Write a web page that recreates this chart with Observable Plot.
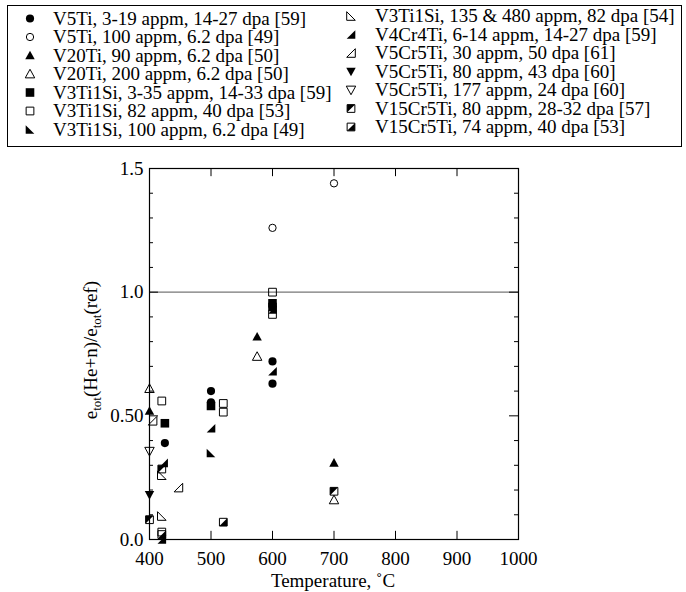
<!DOCTYPE html>
<html><head><meta charset="utf-8">
<script src="https://cdn.jsdelivr.net/npm/d3@7"></script>
<script src="https://cdn.jsdelivr.net/npm/@observablehq/plot@0.6"></script>
<style>body{margin:0;background:#fff;} #c{width:686px;} svg{display:block;}</style>
</head><body><div id="c"></div>
<script>
// ---- data ----
const seriesLabels = [
  "V5Ti, 3-19 appm, 14-27 dpa [59]",
  "V5Ti, 100 appm, 6.2 dpa [49]",
  "V20Ti, 90 appm, 6.2 dpa [50]",
  "V20Ti, 200 appm, 6.2 dpa [50]",
  "V3Ti1Si, 3-35 appm, 14-33 dpa [59]",
  "V3Ti1Si, 82 appm, 40 dpa [53]",
  "V3Ti1Si, 100 appm, 6.2 dpa [49]",
  "V3Ti1Si, 135 & 480 appm, 82 dpa [54]",
  "V4Cr4Ti, 6-14 appm, 14-27 dpa [59]",
  "V5Cr5Ti, 30 appm, 50 dpa [61]",
  "V5Cr5Ti, 80 appm, 43 dpa [60]",
  "V5Cr5Ti, 177 appm, 24 dpa [60]",
  "V15Cr5Ti, 80 appm, 28-32 dpa [57]",
  "V15Cr5Ti, 74 appm, 40 dpa [53]"
];
// temperature (°C) and ratio per series
const s01T = [425, 500, 500, 600, 600];      const s01E = [0.39, 0.60, 0.555, 0.72, 0.63];
const s02T = [600, 700];                     const s02E = [1.26, 1.44];
const s03T = [400, 575, 700];                const s03E = [0.52, 0.82, 0.31];
const s04T = [400, 575, 700];                const s04E = [0.61, 0.74, 0.16];
const s05T = [425, 500, 600, 600];           const s05E = [0.47, 0.54, 0.955, 0.94];
const s06T = [420, 520, 520, 600, 600, 420]; const s06E = [0.56, 0.55, 0.515, 1.0, 0.91, 0.03];
const s07T = [500];                          const s07E = [0.35];
const s08T = [420, 420];                     const s08E = [0.26, 0.095];
const s09T = [423, 500, 600, 600, 420];      const s09E = [0.31, 0.45, 0.68, 0.93, 0.0];
const s10T = [405, 447];                     const s10E = [0.48, 0.21];
const s11T = [400];                          const s11E = [0.18];
const s12T = [400];                          const s12E = [0.357];
const s13T = [400, 420, 700];                const s13E = [0.08, 0.285, 0.195];
const s14T = [520, 420];                     const s14E = [0.07, 0.02];

const xTicks = [400, 500, 600, 700, 800, 900, 1000];
const yMajor = [0, 0.5, 1.0, 1.5];
const yTickLabels = ["0.0", "0.50", "1.0", "1.5"];
const yMinor = [0.1, 0.2, 0.3, 0.4, 0.6, 0.7, 0.8, 0.9, 1.1, 1.2, 1.3, 1.4];

// ---- symbols ----
function poly(pts) {
  return {draw(ctx, size) {
    const h = Math.sqrt(size / Math.PI);
    ctx.moveTo(pts[0][0] * h, pts[0][1] * h);
    for (const p of pts.slice(1)) ctx.lineTo(p[0] * h, p[1] * h);
    ctx.closePath();
  }};
}
const circ = {draw(ctx, size) { const h = Math.sqrt(size / Math.PI) * 0.95; ctx.moveTo(h, 0); ctx.arc(0, 0, h, 0, 2 * Math.PI); }};
const circO = {draw(ctx, size) { const h = Math.sqrt(size / Math.PI) * 0.85; ctx.moveTo(h, 0); ctx.arc(0, 0, h, 0, 2 * Math.PI); }};
const sq = poly([[-1, -1], [1, -1], [1, 1], [-1, 1]]);
const sqO = poly([[-0.9, -0.9], [0.9, -0.9], [0.9, 0.9], [-0.9, 0.9]]);
const triU = poly([[0, -1.1], [1.1, 0.9], [-1.1, 0.9]]);
const triD = poly([[-1.1, -0.9], [1.1, -0.9], [0, 1.1]]);
const rtBL = poly([[-1, -1], [-1, 1], [1, 1]]);
const rtBR = poly([[1, -1], [1, 1], [-1, 1]]);
const halfUL = poly([[-0.9, -0.9], [0.9, -0.9], [-0.9, 0.9]]);
const halfLR = poly([[0.9, -0.9], [0.9, 0.9], [-0.9, 0.9]]);

// components: [symbol, filled]
const seriesSymbols = [
  [[circ, true]], [[circO, false]], [[triU, true]], [[triU, false]],
  [[sq, true]], [[sqO, false]], [[rtBL, true]], [[rtBL, false]],
  [[rtBR, true]], [[rtBR, false]], [[triD, true]], [[triD, false]],
  [[sqO, false], [halfUL, true]], [[sqO, false], [halfLR, true]]
];
const seriesT = [s01T, s02T, s03T, s04T, s05T, s06T, s07T, s08T, s09T, s10T, s11T, s12T, s13T, s14T];
const seriesE = [s01E, s02E, s03E, s04E, s05E, s06E, s07E, s08E, s09E, s10E, s11E, s12E, s13E, s14E];

const R = 4.3;
const font = '"Liberation Serif", "Times New Roman", serif';

// ---- legend ----
const LH = 150;
const leg = d3.create("svg").attr("width", 686).attr("height", LH)
  .style("font-family", font).style("font-size", "19px");
leg.append("rect").attr("x", 7.5).attr("y", 5.5).attr("width", 674).attr("height", 141)
  .attr("fill", "none").attr("stroke", "black").attr("stroke-width", 1);
seriesLabels.forEach((lab, i) => {
  const col = i < 7 ? 0 : 1, row = i % 7;
  const mx = col ? 351 : 30, tx = col ? 375 : 53;
  const cy = (col ? 16 : 18.5) + 18.5 * row;
  for (const [sym, filled] of seriesSymbols[i]) {
    leg.append("path").attr("d", d3.symbol(sym, Math.PI * R * R)())
      .attr("transform", `translate(${mx},${cy})`)
      .attr("fill", filled ? "black" : "none")
      .attr("stroke", filled ? "none" : "black").attr("stroke-width", 1);
  }
  leg.append("text").attr("x", tx).attr("y", cy + 6).text(lab);
});
document.getElementById("c").append(leg.node());

// ---- plot ----
const marks = [];
marks.push(Plot.ruleY([1], {x1: 400, x2: 1000, stroke: "#777", strokeWidth: 1.2}));
seriesT.forEach((T, i) => {
  const data = T.map((t, j) => ({t, e: seriesE[i][j]}));
  for (const [sym, filled] of seriesSymbols[i]) {
    marks.push(Plot.dot(data, {x: "t", y: "e", symbol: sym, r: R,
      fill: filled ? "black" : "none", stroke: filled ? "none" : "black", strokeWidth: 1}));
  }
});
marks.push(
  Plot.ruleX(xTicks.slice(1, -1), {x: d => d, y1: 0, y2: 0.033, stroke: "black"}),
  Plot.ruleX(xTicks.slice(1, -1), {x: d => d, y1: 1.5, y2: 1.467, stroke: "black"}),
  Plot.ruleY(yMajor.slice(1, -1), {y: d => d, x1: 400, x2: 414.6, stroke: "black"}),
  Plot.ruleY(yMajor.slice(1, -1), {y: d => d, x1: 1000, x2: 985.4, stroke: "black"}),
  Plot.ruleY(yMinor, {y: d => d, x1: 400, x2: 406.5, stroke: "black"}),
  Plot.ruleY(yMinor, {y: d => d, x1: 1000, x2: 993.5, stroke: "black"}),
  Plot.frame({stroke: "black", strokeWidth: 1.2}),
  Plot.axisX(xTicks, {tickSize: 0, tickPadding: 12, label: null, tickFormat: d => String(d)}),
  Plot.axisY(yMajor, {tickSize: 0, tickPadding: 6, label: null,
    tickFormat: d => yTickLabels[yMajor.indexOf(d)]})
);

const plot = Plot.plot({
  width: 686, height: 592 - LH,
  marginTop: 168 - LH, marginBottom: 592 - 539, marginLeft: 149, marginRight: 168,
  x: {domain: [400, 1000]},
  y: {domain: [0, 1.5]},
  style: {fontFamily: font, fontSize: "19px", background: "white", color: "black", overflow: "visible"},
  marks
});
const svg = d3.select(plot);
// axis titles
svg.append("text").attr("x", 333).attr("y", 587 - LH).attr("text-anchor", "middle")
  .attr("fill", "black").style("font-size", "19px").text("Temperature, ˚C");
const yl = svg.append("text").attr("transform", `translate(97,${350 - LH}) rotate(-90)`)
  .attr("text-anchor", "middle").attr("fill", "black").style("font-size", "19px");
yl.append("tspan").text("e");
yl.append("tspan").attr("dy", 4).style("font-size", "13px").text("tot");
yl.append("tspan").attr("dy", -4).text("(He+n)/e");
yl.append("tspan").attr("dy", 4).style("font-size", "13px").text("tot");
yl.append("tspan").attr("dy", -4).text("(ref)");
document.getElementById("c").append(plot);
</script>
</body></html>
